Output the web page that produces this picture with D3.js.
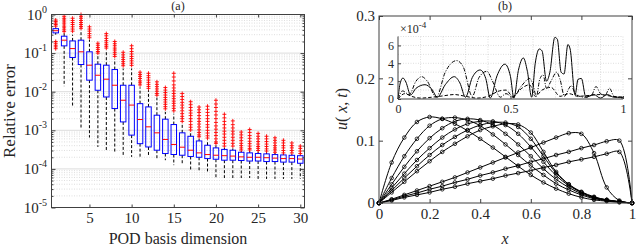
<!DOCTYPE html>
<html>
<head>
<meta charset="utf-8">
<script src="https://cdn.jsdelivr.net/npm/d3@7"></script>
<style>
body { margin: 0; background: #fff; }
svg { display: block; font-family: "Liberation Serif", "Times New Roman", serif; }
svg text { font-family: "Liberation Serif", "Times New Roman", serif; }
</style>
</head>
<body>
<svg id="chart" width="643" height="248"></svg>
<script>
// ---------- panel (a): box plot data, one entry per POD basis dimension ----------
const dims = [1, 2, 3, 4, 5, 6, 7, 8, 9, 10, 11, 12, 13, 14, 15, 16, 17, 18, 19, 20, 21, 22, 23, 24, 25, 26, 27, 28, 29, 30]
const q3 = [0.43, 0.274, 0.207, 0.216, 0.108, 0.0516, 0.0486, 0.0375, 0.0147, 0.0147, 0.0049, 0.00404, 0.00246, 0.00194, 0.00141,
	8.6e-4, 7e-4, 5.3e-4, 4.1e-4, 3.5e-4, 3.2e-4, 3.05e-4, 2.7e-4, 2.6e-4, 2.5e-4, 2.45e-4, 2.35e-4, 2.3e-4, 2.25e-4, 2.2e-4]
const medians = [0.38, 0.216, 0.131, 0.108, 0.0486, 0.0267, 0.0211, 0.0147, 0.006, 0.0045, 0.0019, 0.00123, 8.6e-4, 5.8e-4, 4.3e-4,
	3.65e-4, 3.05e-4, 2.6e-4, 2.35e-4, 2.26e-4, 2.2e-4, 2.15e-4, 2.05e-4, 2.0e-4, 2.0e-4, 1.95e-4, 1.9e-4, 1.85e-4, 1.85e-4, 1.8e-4]
const q1 = [0.334, 0.154, 0.0768, 0.0506, 0.0199, 0.0109, 0.0073, 0.00366, 0.00165, 7.5e-4, 4.5e-4, 3.7e-4, 3.05e-4, 2.5e-4, 2.36e-4,
	2.26e-4, 2.1e-4, 2.0e-4, 1.85e-4, 1.78e-4, 1.68e-4, 1.68e-4, 1.65e-4, 1.6e-4, 1.6e-4, 1.55e-4, 1.55e-4, 1.5e-4, 1.5e-4, 1.4e-4]
const whiskerLow = [0.3, 0.0139, 0.0039, 0.00118, 6.5e-4, 3.7e-4, 2.76e-4, 2.76e-4, 2.26e-4, 2.05e-4, 2.05e-4, 2.05e-4, 1.86e-4, 1.68e-4, 1.25e-4,
	1.25e-4, 8.6e-5, 8.6e-5, 8.6e-5, 5.8e-5, 5.8e-5, 5.8e-5, 5.8e-5, 5.8e-5, 5.5e-5, 5.5e-5, 5.5e-5, 5.5e-5, 5.5e-5, 5.5e-5]
const whiskerHigh = [0.46, 0.33, 0.3, 0.4, 0.22, 0.085, 0.12, 0.07, 0.04, 0.04, 0.013, 0.011, 0.007, 0.003, 0.0027,
	0.0014, 9e-4, 6e-4, 5.6e-4, 4.1e-4, 3.5e-4, 3.4e-4, 2.9e-4, 2.9e-4, 2.8e-4, 2.7e-4, 2.6e-4, 2.5e-4, 2.4e-4, 2.35e-4]
const outliers = [
	[0.72, 0.66, 0.6, 0.55, 0.5, 0.2, 0.18, 0.16, 0.145, 0.13],
	[0.9, 0.8, 0.72, 0.64, 0.57, 0.5, 0.45, 0.4, 0.36],
	[0.8, 0.7, 0.62, 0.55, 0.48, 0.42, 0.37],
	[1.0, 0.9, 0.8, 0.7, 0.62, 0.55, 0.49, 0.44],
	[0.48, 0.42, 0.37, 0.32, 0.28, 0.25],
	[0.18, 0.16, 0.14, 0.125, 0.11, 0.1],
	[0.32, 0.28, 0.24, 0.21, 0.185, 0.165, 0.15, 0.135],
	[0.2, 0.175, 0.155, 0.135, 0.12, 0.105, 0.093, 0.082],
	[0.105, 0.09, 0.078, 0.068, 0.06, 0.053, 0.047],
	[0.155, 0.13, 0.11, 0.095, 0.082, 0.072, 0.063, 0.055, 0.048],
	[0.032, 0.028, 0.025, 0.022, 0.019, 0.017, 0.015],
	[0.03, 0.026, 0.023, 0.02, 0.0175, 0.0155, 0.0137, 0.0122],
	[0.018, 0.0155, 0.0135, 0.0118, 0.0103, 0.009, 0.0081],
	[0.0128, 0.011, 0.0095, 0.0082, 0.0071, 0.0062, 0.0054, 0.0047, 0.0041, 0.0036],
	[0.03, 0.024, 0.019, 0.015, 0.0125, 0.0105, 0.009, 0.0077, 0.0066, 0.0057, 0.005, 0.0043, 0.0037, 0.0032],
	[0.009, 0.0075, 0.0063, 0.0053, 0.0045, 0.0038, 0.0032, 0.0027, 0.0023, 0.002, 0.0017],
	[0.0055, 0.0046, 0.0039, 0.0033, 0.0028, 0.0024, 0.002, 0.0017, 0.0014, 0.0012, 0.00102],
	[0.004, 0.0034, 0.0029, 0.0024, 0.002, 0.0017, 0.00145, 0.00122, 0.00103, 0.00088, 0.00076, 0.00068],
	[0.0042, 0.0035, 0.0029, 0.0024, 0.002, 0.0017, 0.0014, 0.0012, 0.001, 0.00085, 0.00072, 0.00063],
	[0.006, 0.0048, 0.0039, 0.0031, 0.0025, 0.002, 0.0016, 0.0013, 0.00107, 0.00088, 0.00073, 0.0006, 0.0005, 0.00046],
	[0.0026, 0.0021, 0.0017, 0.0014, 0.00115, 0.00095, 0.0008, 0.00066, 0.00055, 0.00046, 0.00039],
	[0.00175, 0.0014, 0.00115, 0.00095, 0.0008, 0.00066, 0.00055, 0.00046, 0.00039],
	[0.0009, 0.00076, 0.00064, 0.00054, 0.00046, 0.0004, 0.00035, 0.00031],
	[0.00105, 0.00088, 0.00073, 0.00062, 0.00052, 0.00045, 0.00039, 0.00034, 0.00031],
	[0.00083, 0.0007, 0.0006, 0.00051, 0.00044, 0.00038, 0.00034, 0.0003],
	[0.0007, 0.0006, 0.00051, 0.00044, 0.00038, 0.00033, 0.00029],
	[0.00064, 0.00055, 0.00047, 0.0004, 0.00035, 0.00031, 0.00027],
	[0.00055, 0.00047, 0.0004, 0.00035, 0.0003, 0.00026],
	[0.00047, 0.0004, 0.00035, 0.0003, 0.00026],
	[0.00039, 0.00034, 0.00029, 0.00025]
]
const xTicksA = [5, 10, 15, 20, 25, 30]
const decadesA = [1e-5, 1e-4, 1e-3, 1e-2, 1e-1, 1]
const decadeExp = ['-5', '-4', '-3', '-2', '-1', '0']

// ---------- panel (b): solution snapshots u(x,t) ----------
const xs = [0, 0.05, 0.1, 0.15, 0.2, 0.25, 0.3, 0.35, 0.4, 0.45, 0.5, 0.55, 0.6, 0.65, 0.7, 0.75, 0.8, 0.85, 0.9, 0.95, 1]
const u1 = [0, 0.065, 0.105, 0.13, 0.138, 0.135, 0.127, 0.116, 0.103, 0.089, 0.074, 0.059, 0.045, 0.033, 0.023, 0.015, 0.009, 0.005, 0.003, 0.001, 0]
const u2 = [0, 0.04, 0.075, 0.103, 0.124, 0.135, 0.137, 0.133, 0.124, 0.11, 0.094, 0.077, 0.06, 0.045, 0.031, 0.021, 0.013, 0.007, 0.004, 0.002, 0]
const u3 = [0, 0.03, 0.058, 0.083, 0.104, 0.12, 0.131, 0.135, 0.133, 0.125, 0.111, 0.094, 0.075, 0.055, 0.038, 0.025, 0.015, 0.008, 0.004, 0.002, 0]
const u4 = [0, 0.024, 0.047, 0.069, 0.088, 0.105, 0.118, 0.127, 0.131, 0.131, 0.125, 0.111, 0.09, 0.066, 0.044, 0.028, 0.017, 0.009, 0.005, 0.002, 0]
const u5 = [0, 0.02, 0.04, 0.059, 0.077, 0.093, 0.106, 0.117, 0.125, 0.129, 0.129, 0.122, 0.103, 0.075, 0.048, 0.03, 0.018, 0.01, 0.005, 0.002, 0]
const u6 = [0, 0.017, 0.034, 0.051, 0.067, 0.082, 0.095, 0.107, 0.117, 0.123, 0.127, 0.126, 0.113, 0.082, 0.05, 0.03, 0.017, 0.009, 0.005, 0.002, 0]
const u7 = [0, 0.006, 0.013, 0.02, 0.027, 0.034, 0.041, 0.049, 0.057, 0.065, 0.073, 0.081, 0.089, 0.097, 0.105, 0.112, 0.111, 0.08, 0.025, 0.004, 0]
const u8 = [0, 0.005, 0.011, 0.016, 0.022, 0.027, 0.033, 0.038, 0.044, 0.049, 0.055, 0.06, 0.066, 0.071, 0.077, 0.082, 0.088, 0.093, 0.099, 0.1, 0]
const u9 = [0, 0.004, 0.009, 0.013, 0.017, 0.022, 0.026, 0.031, 0.035, 0.039, 0.044, 0.048, 0.052, 0.057, 0.061, 0.066, 0.07, 0.074, 0.079, 0.082, 0]
const snapshots = [u1, u2, u3, u4, u5, u6, u7, u8, u9]
const xTicksB = [0, 0.2, 0.4, 0.6, 0.8, 1]
const yTicksB = [0, 0.1, 0.2, 0.3]

// inset: pointwise error (x 1e-4), three runs
const errSolidX = [0, 0.01, 0.022, 0.035, 0.056, 0.08, 0.12, 0.15, 0.175, 0.21, 0.25, 0.275, 0.3, 0.33, 0.365, 0.39, 0.41, 0.44, 0.475, 0.5, 0.515, 0.535, 0.557, 0.575, 0.594, 0.61, 0.628, 0.64, 0.66, 0.675, 0.697, 0.708, 0.725, 0.738, 0.755, 0.765, 0.787, 0.8, 0.815, 0.835, 0.87, 0.9, 0.93, 0.96, 1]
const errSolid = [0, 1.8, 2.35, 1.9, 0.45, 1.2, 1.6, 1.1, 0.2, 1.6, 2.5, 1.8, 0.2, 2.4, 3.25, 2.3, 0.1, 2.6, 3.9, 2.5, 0.1, 3.2, 4.6, 3.1, 0.2, 4.0, 5.6, 5.4, 2.0, 3.0, 6.9, 6.7, 3.0, 2.8, 6.1, 5.6, 0.45, 2.2, 2.3, 0.2, 0.5, 0.1, 0.5, 0.2, 0.2]
const errDashDotX = [0, 0.02, 0.05, 0.08, 0.105, 0.13, 0.17, 0.21, 0.26, 0.29, 0.33, 0.36, 0.395, 0.42, 0.455, 0.48, 0.51, 0.55, 0.585, 0.6, 0.615, 0.63, 0.645, 0.66, 0.68, 0.705, 0.72, 0.74, 0.76, 0.77, 0.79, 0.83, 0.86, 0.88, 0.9, 0.92, 0.94, 0.96, 1]
const errDashDot = [0, 0.9, 0.5, 2.0, 2.5, 2.0, 0.2, 3.0, 4.3, 3.6, 0.3, 2.4, 3.1, 2.0, 0.2, 0.6, 0.2, 1.5, 2.3, 1.6, 0.3, 2.2, 2.7, 1.2, 2.0, 3.0, 2.2, 0.3, 1.2, 1.5, 0.5, 0.2, 0.4, 1.4, 0.6, 0.4, 1.2, 0.3, 0.1]
const errDashedX = [0, 0.03, 0.06, 0.1, 0.15, 0.2, 0.25, 0.3, 0.35, 0.4, 0.45, 0.48, 0.51, 0.55, 0.585, 0.61, 0.64, 0.68, 0.72, 0.76, 0.8, 0.85, 0.9, 0.95, 1]
const errDashed = [0, 0.6, 0.3, 0.1, 0.2, 0.35, 0.5, 0.3, 0.1, 0.3, 0.9, 1.0, 0.3, 1.2, 1.6, 0.3, 1.0, 1.3, 0.3, 0.6, 0.3, 0.4, 0.5, 0.3, 0.2]
const insetYTicks = [0, 2, 4, 6]
const insetXTicks = [0, 0.5, 1]

const axisColor = '#404040'
const serif = '"Liberation Serif", "Times New Roman", serif'
const svg = d3.select('#chart')

function styleAxis(g) {
	g.attr('font-family', null).attr('font-size', null)
	g.select('.domain').remove()
	g.selectAll('.tick line').attr('stroke', axisColor)
	g.selectAll('.tick text').attr('fill', '#262626').style('font-family', serif)
}

// ================= panel (a) =================
const xA = d3.scaleLinear().domain([0.5, 30.5]).range([51.5, 304.5])
const yA = d3.scaleLog().domain([1e-5, 1]).range([207.5, 14.5])
const isDecade = v => Math.abs(Math.log10(v) - Math.round(Math.log10(v))) < 1e-9
const minorA = yA.ticks().filter(v => !isDecade(v))

const gA = svg.append('g')
gA.append('g').selectAll('line').data(minorA).join('line')
	.attr('x1', 51.5).attr('x2', 304.5)
	.attr('y1', d => yA(d)).attr('y2', d => yA(d))
	.attr('stroke', '#c8c8c8').attr('stroke-width', 0.6).attr('stroke-dasharray', '1,1.5')
gA.append('g').selectAll('line').data(decadesA).join('line')
	.attr('x1', 51.5).attr('x2', 304.5)
	.attr('y1', d => yA(d)).attr('y2', d => yA(d))
	.attr('stroke', '#dcdcdc').attr('stroke-width', 1)

const boxW = 5.5
const boxes = gA.append('g').selectAll('g').data(dims).join('g')
	.attr('transform', d => `translate(${xA(d)},0)`)
boxes.append('line')
	.attr('y1', (d, i) => yA(q1[i])).attr('y2', (d, i) => yA(whiskerLow[i]))
	.attr('stroke', '#000').attr('stroke-width', 1).attr('stroke-dasharray', '3,2')
boxes.append('line')
	.attr('y1', (d, i) => yA(q3[i])).attr('y2', (d, i) => yA(whiskerHigh[i]))
	.attr('stroke', '#000').attr('stroke-width', 1).attr('stroke-dasharray', '3,2')
boxes.append('rect')
	.attr('x', -boxW / 2).attr('width', boxW)
	.attr('y', (d, i) => yA(q3[i])).attr('height', (d, i) => yA(q1[i]) - yA(q3[i]))
	.attr('fill', 'none').attr('stroke', '#0000ff').attr('stroke-width', 1)
boxes.append('line')
	.attr('x1', -boxW / 2).attr('x2', boxW / 2)
	.attr('y1', (d, i) => yA(medians[i])).attr('y2', (d, i) => yA(medians[i]))
	.attr('stroke', '#ff0000').attr('stroke-width', 1)
boxes.each(function (d, i) {
	d3.select(this).selectAll('path').data(outliers[i]).join('path')
		.attr('d', v => `M-2,${yA(v)}H2M0,${yA(v) - 2}V${yA(v) + 2}`)
		.attr('stroke', '#ff0000').attr('stroke-width', 0.9)
})

// axes (a): ticks inward on all four sides
gA.append('g').attr('transform', 'translate(0,207.5)')
	.call(d3.axisBottom(xA).tickValues(xTicksA).tickSize(-3).tickPadding(5))
	.call(styleAxis).call(g => g.selectAll('text').attr('font-size', 15))
gA.append('g').attr('transform', 'translate(0,14.5)')
	.call(d3.axisTop(xA).tickValues(xTicksA).tickSize(-3).tickFormat(''))
	.call(styleAxis)
gA.append('g').attr('transform', 'translate(51.5,0)')
	.call(d3.axisLeft(yA).tickValues(decadesA).tickSize(-4).tickFormat(''))
	.call(styleAxis)
gA.append('g').attr('transform', 'translate(51.5,0)')
	.call(d3.axisLeft(yA).tickValues(minorA).tickSize(-2).tickFormat(''))
	.call(styleAxis)
gA.append('g').attr('transform', 'translate(304.5,0)')
	.call(d3.axisRight(yA).tickValues(decadesA).tickSize(-4).tickFormat(''))
	.call(styleAxis)
gA.append('g').attr('transform', 'translate(304.5,0)')
	.call(d3.axisRight(yA).tickValues(minorA).tickSize(-2).tickFormat(''))
	.call(styleAxis)
gA.append('rect').attr('x', 51.5).attr('y', 14.5).attr('width', 253).attr('height', 193)
	.attr('fill', 'none').attr('stroke', axisColor).attr('stroke-width', 1)

const yLabA = gA.append('g').selectAll('text').data(decadesA).join('text')
	.attr('x', 47).attr('y', d => yA(d) + 5)
	.attr('text-anchor', 'end').attr('font-size', 15).attr('fill', '#262626')
yLabA.append('tspan').text('10')
yLabA.append('tspan').attr('font-size', 10).attr('dy', -7).text((d, i) => decadeExp[i])

gA.append('text').attr('x', 178).attr('y', 244).attr('text-anchor', 'middle')
	.attr('font-size', 16).attr('fill', '#262626').text('POD basis dimension')
gA.append('text').attr('transform', 'translate(15,111) rotate(-90)').attr('text-anchor', 'middle')
	.attr('font-size', 17).attr('fill', '#262626').text('Relative error')
gA.append('text').attr('x', 178).attr('y', 10).attr('text-anchor', 'middle')
	.attr('font-size', 12).attr('fill', '#262626').text('(a)')

// ================= panel (b) =================
const xB = d3.scaleLinear().domain([0, 1]).range([379, 632])
const yB = d3.scaleLinear().domain([0, 0.3]).range([203, 16])
const gB = svg.append('g')

const lineB = d3.line().x((d, i) => xB(xs[i])).y(d => yB(d)).curve(d3.curveCatmullRom.alpha(0.5))
gB.append('g').selectAll('path').data(snapshots).join('path')
	.attr('d', lineB).attr('fill', 'none').attr('stroke', '#000').attr('stroke-width', 1)
snapshots.forEach(u => {
	gB.append('g').selectAll('circle').data(u).join('circle')
		.attr('cx', (d, i) => xB(xs[i])).attr('cy', d => yB(d)).attr('r', 1.8)
		.attr('fill', 'none').attr('stroke', '#000').attr('stroke-width', 0.8)
})

gB.append('g').attr('transform', 'translate(0,203)')
	.call(d3.axisBottom(xB).tickValues(xTicksB).tickSize(-4).tickPadding(5).tickFormat(d3.format('')))
	.call(styleAxis).call(g => g.selectAll('text').attr('font-size', 15))
gB.append('g').attr('transform', 'translate(0,16)')
	.call(d3.axisTop(xB).tickValues(xTicksB).tickSize(-4).tickFormat(''))
	.call(styleAxis)
gB.append('g').attr('transform', 'translate(379,0)')
	.call(d3.axisLeft(yB).tickValues(yTicksB).tickSize(-4).tickPadding(4).tickFormat(d3.format('')))
	.call(styleAxis).call(g => g.selectAll('text').attr('font-size', 15))
gB.append('g').attr('transform', 'translate(632,0)')
	.call(d3.axisRight(yB).tickValues(yTicksB).tickSize(-4).tickFormat(''))
	.call(styleAxis)
gB.append('rect').attr('x', 379).attr('y', 16).attr('width', 253).attr('height', 187)
	.attr('fill', 'none').attr('stroke', axisColor).attr('stroke-width', 1)

gB.append('text').attr('x', 505).attr('y', 244).attr('text-anchor', 'middle')
	.attr('font-size', 16).attr('fill', '#262626').attr('font-style', 'italic').text('x')
const ylab = gB.append('text').attr('transform', 'translate(347,109) rotate(-90)').attr('text-anchor', 'middle')
	.attr('font-size', 16).attr('fill', '#262626')
ylab.append('tspan').attr('font-style', 'italic').text('u')
ylab.append('tspan').text('( ')
ylab.append('tspan').attr('font-style', 'italic').text('x')
ylab.append('tspan').text(', ')
ylab.append('tspan').attr('font-style', 'italic').text('t')
ylab.append('tspan').text(')')
gB.append('text').attr('x', 505).attr('y', 10).attr('text-anchor', 'middle')
	.attr('font-size', 12).attr('fill', '#262626').text('(b)')

// ---------- inset ----------
const xI = d3.scaleLinear().domain([0, 1]).range([398, 623])
const yI = d3.scaleLinear().domain([0, 7]).range([99, 36.5])
const gI = svg.append('g')
gI.append('rect').attr('x', 398).attr('y', 36.5).attr('width', 225).attr('height', 62.5).attr('fill', '#fff')
gI.append('g').selectAll('line').data([0.1, 0.2, 0.3, 0.4, 0.5, 0.6, 0.7, 0.8, 0.9, 1]).join('line')
	.attr('x1', d => xI(d)).attr('x2', d => xI(d)).attr('y1', 36.5).attr('y2', 99)
	.attr('stroke', '#c8c8c8').attr('stroke-width', 0.6).attr('stroke-dasharray', '1,1.5')
gI.append('g').selectAll('line').data([1, 2, 3, 4, 5, 6, 7]).join('line')
	.attr('x1', 398).attr('x2', 623).attr('y1', d => yI(d)).attr('y2', d => yI(d))
	.attr('stroke', '#c8c8c8').attr('stroke-width', 0.6).attr('stroke-dasharray', '1,1.5')

const lineI = d3.line().curve(d3.curveMonotoneX)
const insetSeries = [
	{ x: errSolidX, y: errSolid, dash: null },
	{ x: errDashDotX, y: errDashDot, dash: '4,1.5,1,1.5' },
	{ x: errDashedX, y: errDashed, dash: '3.5,2' }
]
insetSeries.forEach(s => {
	gI.append('path')
		.attr('d', lineI(s.x.map((x, i) => [xI(x), yI(s.y[i])])))
		.attr('fill', 'none').attr('stroke', '#000').attr('stroke-width', 1)
		.attr('stroke-dasharray', s.dash)
})

gI.append('g').attr('transform', 'translate(0,99)')
	.call(d3.axisBottom(xI).tickValues(insetXTicks).tickSize(-3).tickPadding(5).tickFormat(d3.format('')))
	.call(styleAxis).call(g => g.selectAll('text').attr('font-size', 12))
gI.append('g').attr('transform', 'translate(398,0)')
	.call(d3.axisLeft(yI).tickValues(insetYTicks).tickSize(-3).tickPadding(4).tickFormat(d3.format('')))
	.call(styleAxis).call(g => g.selectAll('text').attr('font-size', 12))
gI.append('path').attr('d', 'M398,36.5V99H623')
	.attr('fill', 'none').attr('stroke', axisColor).attr('stroke-width', 1)
const mult = gI.append('text').attr('x', 400).attr('y', 33).attr('font-size', 12).attr('fill', '#262626')
mult.append('tspan').text('\u00d710')
mult.append('tspan').attr('font-size', 9).attr('dy', -5).text('-4')
</script>
</body>
</html>
